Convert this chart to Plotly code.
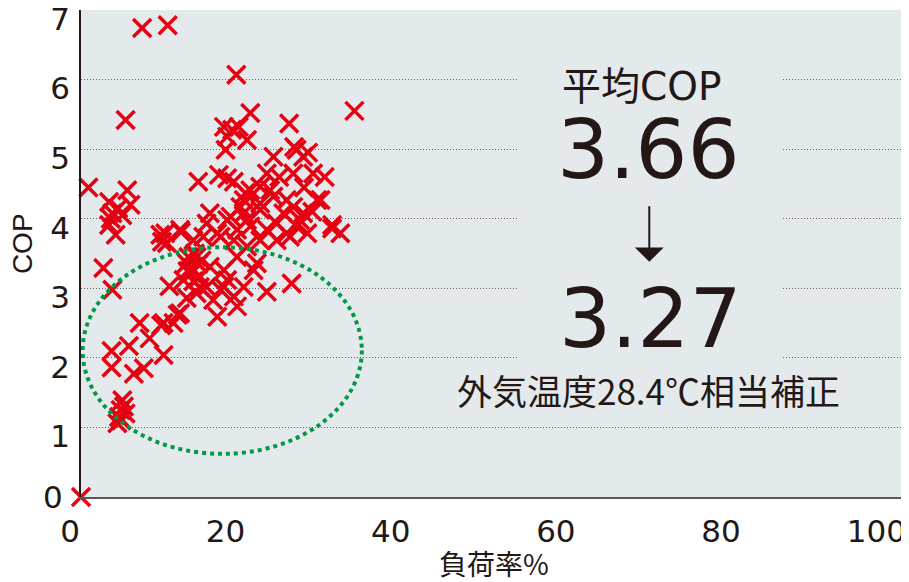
import plotly.graph_objects as go

# 負荷率(%) と COP の実測点
load_rate = [7.4, 10.5, 18.8, 5.4, 33.1,
             17.3, 18.3, 19.1, 20.5, 20.1, 17.5, 17.7, 25.2,
             0.9, 3.4, 5.6, 6.0, 3.8, 5.0, 3.4, 4.2, 9.6, 9.8, 12.1, 4.5, 3.6,
             14.2, 16.7, 17.7, 18.5, 23.3, 26.1, 26.9, 28.1, 25.7, 22.5, 20.5, 21.7, 19.9, 23.3, 29.0,
             30.4, 31.4, 25.7, 26.5, 24.5, 21.7, 19.3, 18.1, 15.6, 15.2, 20.1, 22.5, 24.9, 27.4, 21.7,
             18.5, 16.5, 13.6, 25.8, 27.5, 28.6, 24.9, 22.9, 19.7, 17.7, 14.8, 16.9, 18.9, 20.5, 19.7,
             21.7, 26.1, 23.7, 23.7, 25.3, 26.9, 30.4, 12.0, 10.2, 10.4, 27.0, 28.0, 29.5, 24.0,
             13.4, 14.0, 12.8, 14.4, 13.4, 12.4, 15.6, 13.0, 13.8, 14.2, 13.6, 12.9, 14.6,
             21.3, 18.9, 20.1, 17.3, 17.7, 19.7, 18.9, 16.0, 14.0, 11.2, 10.0, 25.5, 22.5, 20.9, 16.5,
             18.5, 17.3, 15.2, 12.0, 10.7, 12.8, 16.9, 14.4,
             2.7, 3.8, 7.1, 9.7, 5.8, 3.7, 3.7, 6.4, 7.6, 8.3, 10.0, 11.7,
             4.8, 5.0, 4.6, 5.2, 4.4, 5.4, 4.9,
             0.0]
cop = [6.74, 6.78, 6.07, 5.42, 5.55,
       5.32, 5.28, 5.32, 5.52, 5.13, 4.99, 5.18, 5.37,
       4.45, 4.24, 4.41, 4.20, 4.08, 4.05, 3.91, 3.77, 3.77, 3.67, 3.81, 4.15, 4.00,
       4.53, 4.63, 4.58, 4.53, 4.89, 4.99, 4.89, 4.65, 4.65, 4.65, 4.41, 4.46, 4.37, 4.32, 4.27,
       3.91, 3.79, 4.17, 3.98, 4.08, 4.22, 4.17, 4.03, 4.08, 3.93, 3.98, 3.84, 3.79, 3.79, 3.69,
       3.69, 3.79, 3.69, 5.03, 4.95, 4.27, 4.27, 4.41, 4.27, 3.98, 3.74, 3.74, 3.84, 3.89, 4.08,
       4.13, 3.89, 3.69, 3.93, 3.74, 4.08, 3.86, 3.84, 3.79, 3.65, 4.45, 4.10, 4.60, 4.60,
       3.29, 3.45, 3.36, 3.17, 3.22, 3.12, 3.31, 3.45, 3.50, 3.35, 3.10, 3.25, 3.40,
       3.36, 3.45, 3.60, 3.26, 3.12, 3.02, 2.74, 2.83, 2.93, 2.50, 2.50, 3.07, 2.95, 3.26, 2.59,
       2.88, 3.02, 3.02, 2.64, 3.03, 2.86, 2.98, 3.02,
       3.29, 2.98, 2.50, 2.47, 2.17, 2.10, 1.86, 1.77, 1.85, 2.28, 2.04, 2.62,
       1.25, 1.39, 1.15, 1.30, 1.06, 1.20, 1.10,
       0.0]

x_ticks = [0, 20, 40, 60, 80, 100]
y_ticks = [0, 1, 2, 3, 4, 5, 6, 7]

avg_label = "平均COP"
cop_before = "3.66"
cop_after = "3.27"
note = "外気温度28.4℃相当補正"

RED = "#e60012"
INK = "#231815"
BG = "#e4e9ec"
JP = "Noto Sans CJK JP"
NUM = "DejaVu Sans, Noto Sans CJK JP"

fig = go.Figure()
fig.add_trace(go.Scatter(x=load_rate, y=cop, mode="markers",
                         marker=dict(symbol="x-thin-open", size=18, color=RED,
                                     line=dict(color=RED, width=3.5)),
                         cliponaxis=False, showlegend=False))
# 目盛ラベル用の重ね軸(元図ではラベルが少し下にずれている)
fig.add_trace(go.Scatter(x=[None], y=[None], yaxis="y2", showlegend=False))

# 低負荷域の楕円
fig.add_shape(type="circle", xref="x", yref="y", x0=0.2, x1=34.0, y0=0.62, y1=3.59,
              line=dict(color="#009a44", width=4, dash="dot"), layer="above")
# 文字の背景(グリッドを隠す)
fig.add_shape(type="rect", xref="x", yref="y", x0=52.8, x1=84.8, y0=1.3, y1=6.5,
              fillcolor=BG, line=dict(width=0), layer="between")

fig.add_annotation(x=67.8, y=5.9, text=avg_label, showarrow=False,
                   font=dict(family=NUM, size=39, color=INK))
fig.add_annotation(x=68.7, y=5.0, text=cop_before, showarrow=False,
                   font=dict(family=NUM, size=82, color=INK))
fig.add_annotation(x=68.9, y=2.57, text=cop_after, showarrow=False,
                   font=dict(family=NUM, size=82, color=INK))
fig.add_annotation(x=68.8, y=3.38, ax=68.8, ay=4.20, axref="x", ayref="y",
                   xref="x", yref="y", text="", showarrow=True,
                   arrowhead=1, arrowsize=2.4, arrowwidth=2, arrowcolor=INK)
fig.add_annotation(x=68.7, y=1.55, text=note, showarrow=False,
                   font=dict(family=JP, size=35, color=INK))

fig.add_annotation(xref="paper", yref="paper", x=0.5, y=-0.136, xanchor="center",
                   yanchor="middle", text="負荷率%", showarrow=False,
                   font=dict(family=JP, size=28, color=INK))
fig.add_annotation(xref="paper", yref="paper", x=-0.071, y=0.52, xanchor="center",
                   yanchor="middle", text="COP", textangle=-90, showarrow=False,
                   font=dict(family="Liberation Sans Narrow, Liberation Sans", size=28, color=INK))

fig.update_layout(
    xaxis=dict(range=[0, 100], tickvals=x_ticks, showgrid=False, zeroline=False,
               showline=True, linecolor="#595757", linewidth=2, ticks="",
               automargin=False, ticklabeloverflow="allow", ticklabelposition="outside left",
               tickfont=dict(family=NUM, size=31, color=INK), ticklabelstandoff=6),
    # 主軸: グリッドと「0」だけ
    yaxis=dict(range=[0, 7], tickvals=y_ticks,
               ticktext=[str(v) if v == 0 else "" for v in y_ticks],
               showgrid=True, gridcolor="#666", gridwidth=1, griddash="1px,2px",
               zeroline=False, showline=True, linecolor=INK, linewidth=2, ticks="",
               automargin=False, ticklabeloverflow="allow",
               tickfont=dict(family=NUM, size=31, color=INK), ticklabelstandoff=10),
    # 重ね軸: 1〜7 のラベルを少し下げて表示
    yaxis2=dict(range=[0.13, 7.13], tickvals=y_ticks[1:], overlaying="y", side="left",
                showgrid=False, zeroline=False, showline=False, ticks="",
                automargin=False, ticklabeloverflow="allow",
                tickfont=dict(family=NUM, size=31, color=INK), ticklabelstandoff=10),
    # ページ余白(8px)の分だけ図を小さくしてずれを相殺
    width=901, height=574, margin=dict(l=72.7, r=2, t=2, b=85),
    plot_bgcolor=BG, paper_bgcolor="white")

fig.write_html("out.html")
